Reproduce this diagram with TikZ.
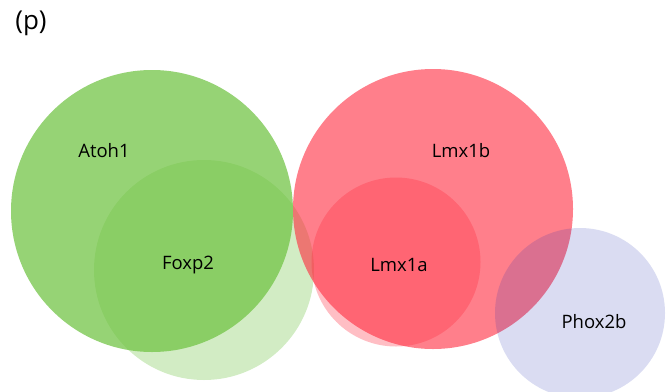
\documentclass[tikz,border=0pt]{standalone}
\usepackage{fontspec}
\setmainfont{Open Sans}
\definecolor{leafgreen}{RGB}{110,194,64}
\definecolor{rosered}{RGB}{255,41,61}
\definecolor{lavblue}{RGB}{30,45,175}
\begin{document}
\begin{tikzpicture}[x=1pt,y=-1pt,
  lbl/.style={font=\fontsize{18.5}{22}\selectfont,text=black}]
\useasboundingbox (0,0) rectangle (668,391);
% green group
\fill[leafgreen,fill opacity=0.72] (152,211) circle (141);
\fill[leafgreen,fill opacity=0.31] (204,270) circle (110);
% red group
\fill[rosered,fill opacity=0.6] (433,209) circle (140);
\fill[rosered,fill opacity=0.3] (396,262) circle (84.5);
% blue
\fill[lavblue,fill opacity=0.165] (580,313) circle (85);
% labels
\node[lbl,font=\fontsize{26}{30}\selectfont] (tag) at (31,23) {(p)};
\node[lbl] (atoh) at (104,151) {Atoh1};
\node[lbl] (foxp) at (188,265) {Foxp2};
\node[lbl] (lmxb) at (461,151) {Lmx1b};
\node[lbl] (lmxa) at (399,265) {Lmx1a};
\node[lbl] (phox) at (594,322) {Phox2b};
\end{tikzpicture}
\end{document}
